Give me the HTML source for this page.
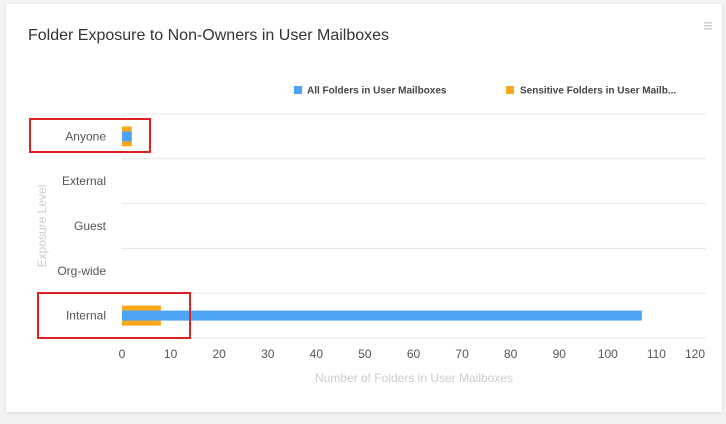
<!DOCTYPE html>
<html><head><meta charset="utf-8"><style>
html,body{margin:0;padding:0;background:#f3f3f3;}
body{width:726px;height:424px;position:relative;overflow:hidden;font-family:"Liberation Sans",sans-serif;}
.card{position:absolute;left:6px;top:4px;width:716px;height:408px;background:#fff;box-shadow:0 1px 4px rgba(0,0,0,0.12);}
</style></head><body>
<div class="card"></div>
<svg id="chart" width="726" height="424" style="position:absolute;left:0;top:0">
<text x="28" y="40" font-size="16" fill="#333">Folder Exposure to Non-Owners in User Mailboxes</text>
<g fill="#ccc"><rect x="704" y="22" width="8" height="1.5"/><rect x="704" y="25" width="8" height="1.5"/><rect x="704" y="28" width="8" height="1.5"/></g>
<g>
<g><rect x="294" y="86" width="8" height="8" fill="#4da6f5"/><text x="307" y="93.5" font-size="10" font-weight="bold" fill="#444">All Folders in User Mailboxes</text></g>
<g><rect x="506" y="86" width="8" height="8" fill="#f9a71b"/><text x="520" y="93.5" font-size="10" font-weight="bold" fill="#444">Sensitive Folders in User Mailb...</text></g>
</g>
<text transform="translate(46,226) rotate(-90)" text-anchor="middle" font-size="12" fill="#ccc">Exposure Level</text>
<text x="414" y="382" text-anchor="middle" font-size="12" fill="#ccc">Number of Folders in User Mailboxes</text>
<g id="grid"></g><g id="bars"></g><g id="labels"></g>
<rect x="30" y="119" width="120" height="33" fill="none" stroke="#e02020" stroke-width="2"/>
<rect x="38" y="293" width="152" height="45" fill="none" stroke="#e02020" stroke-width="2"/>
</svg>
<script>
const categories=["Anyone","External","Guest","Org-wide","Internal"];
const allFolders=[2,0,0,0,107];
const sensitiveFolders=[2,0,0,0,8];
const xTicks=[0,10,20,30,40,50,60,70,80,90,100,110,120];
const NS="http://www.w3.org/2000/svg";
const x0=122,x1=705,xMax=120,yTop=114,rowH=44.8;
const xs=v=>x0+(v/xMax)*(x1-x0);
const yc=i=>yTop+rowH*(i+0.5);
function mk(t,a){const e=document.createElementNS(NS,t);for(const k in a)e.setAttribute(k,a[k]);return e;}
const grid=document.getElementById('grid'),bars=document.getElementById('bars'),labels=document.getElementById('labels');
for(let i=0;i<=categories.length;i++){
  const y=yTop+rowH*i;
  const l=mk('line',{x1:x0,x2:706,y1:y,y2:y,stroke:'#e6e6e6','stroke-width':1});
  
  
  grid.appendChild(l);
}
categories.forEach((c,i)=>{
  const t=mk('text',{x:106,y:yc(i)+4,'text-anchor':'end','font-size':12,fill:'#555'});
  t.textContent=c;
  
  
  labels.appendChild(t);
  if(sensitiveFolders[i]>0){
    const r=mk('rect',{x:x0,y:yc(i)-10,width:xs(sensitiveFolders[i])-x0,height:20,fill:'#f9a71b'});
    
    
    bars.appendChild(r);
  }
  if(allFolders[i]>0){
    const r=mk('rect',{x:x0,y:yc(i)-5,width:xs(allFolders[i])-x0,height:10,fill:'#4da6f5'});
    
    
    bars.appendChild(r);
  }
});
xTicks.forEach((v,k)=>{
  const last=k===xTicks.length-1;
  const t=mk('text',{x:last?x1:xs(v),y:358,'text-anchor':last?'end':'middle','font-size':12,fill:'#555'});
  t.textContent=v;
  
  
  labels.appendChild(t);
});
</script>
</body></html>
